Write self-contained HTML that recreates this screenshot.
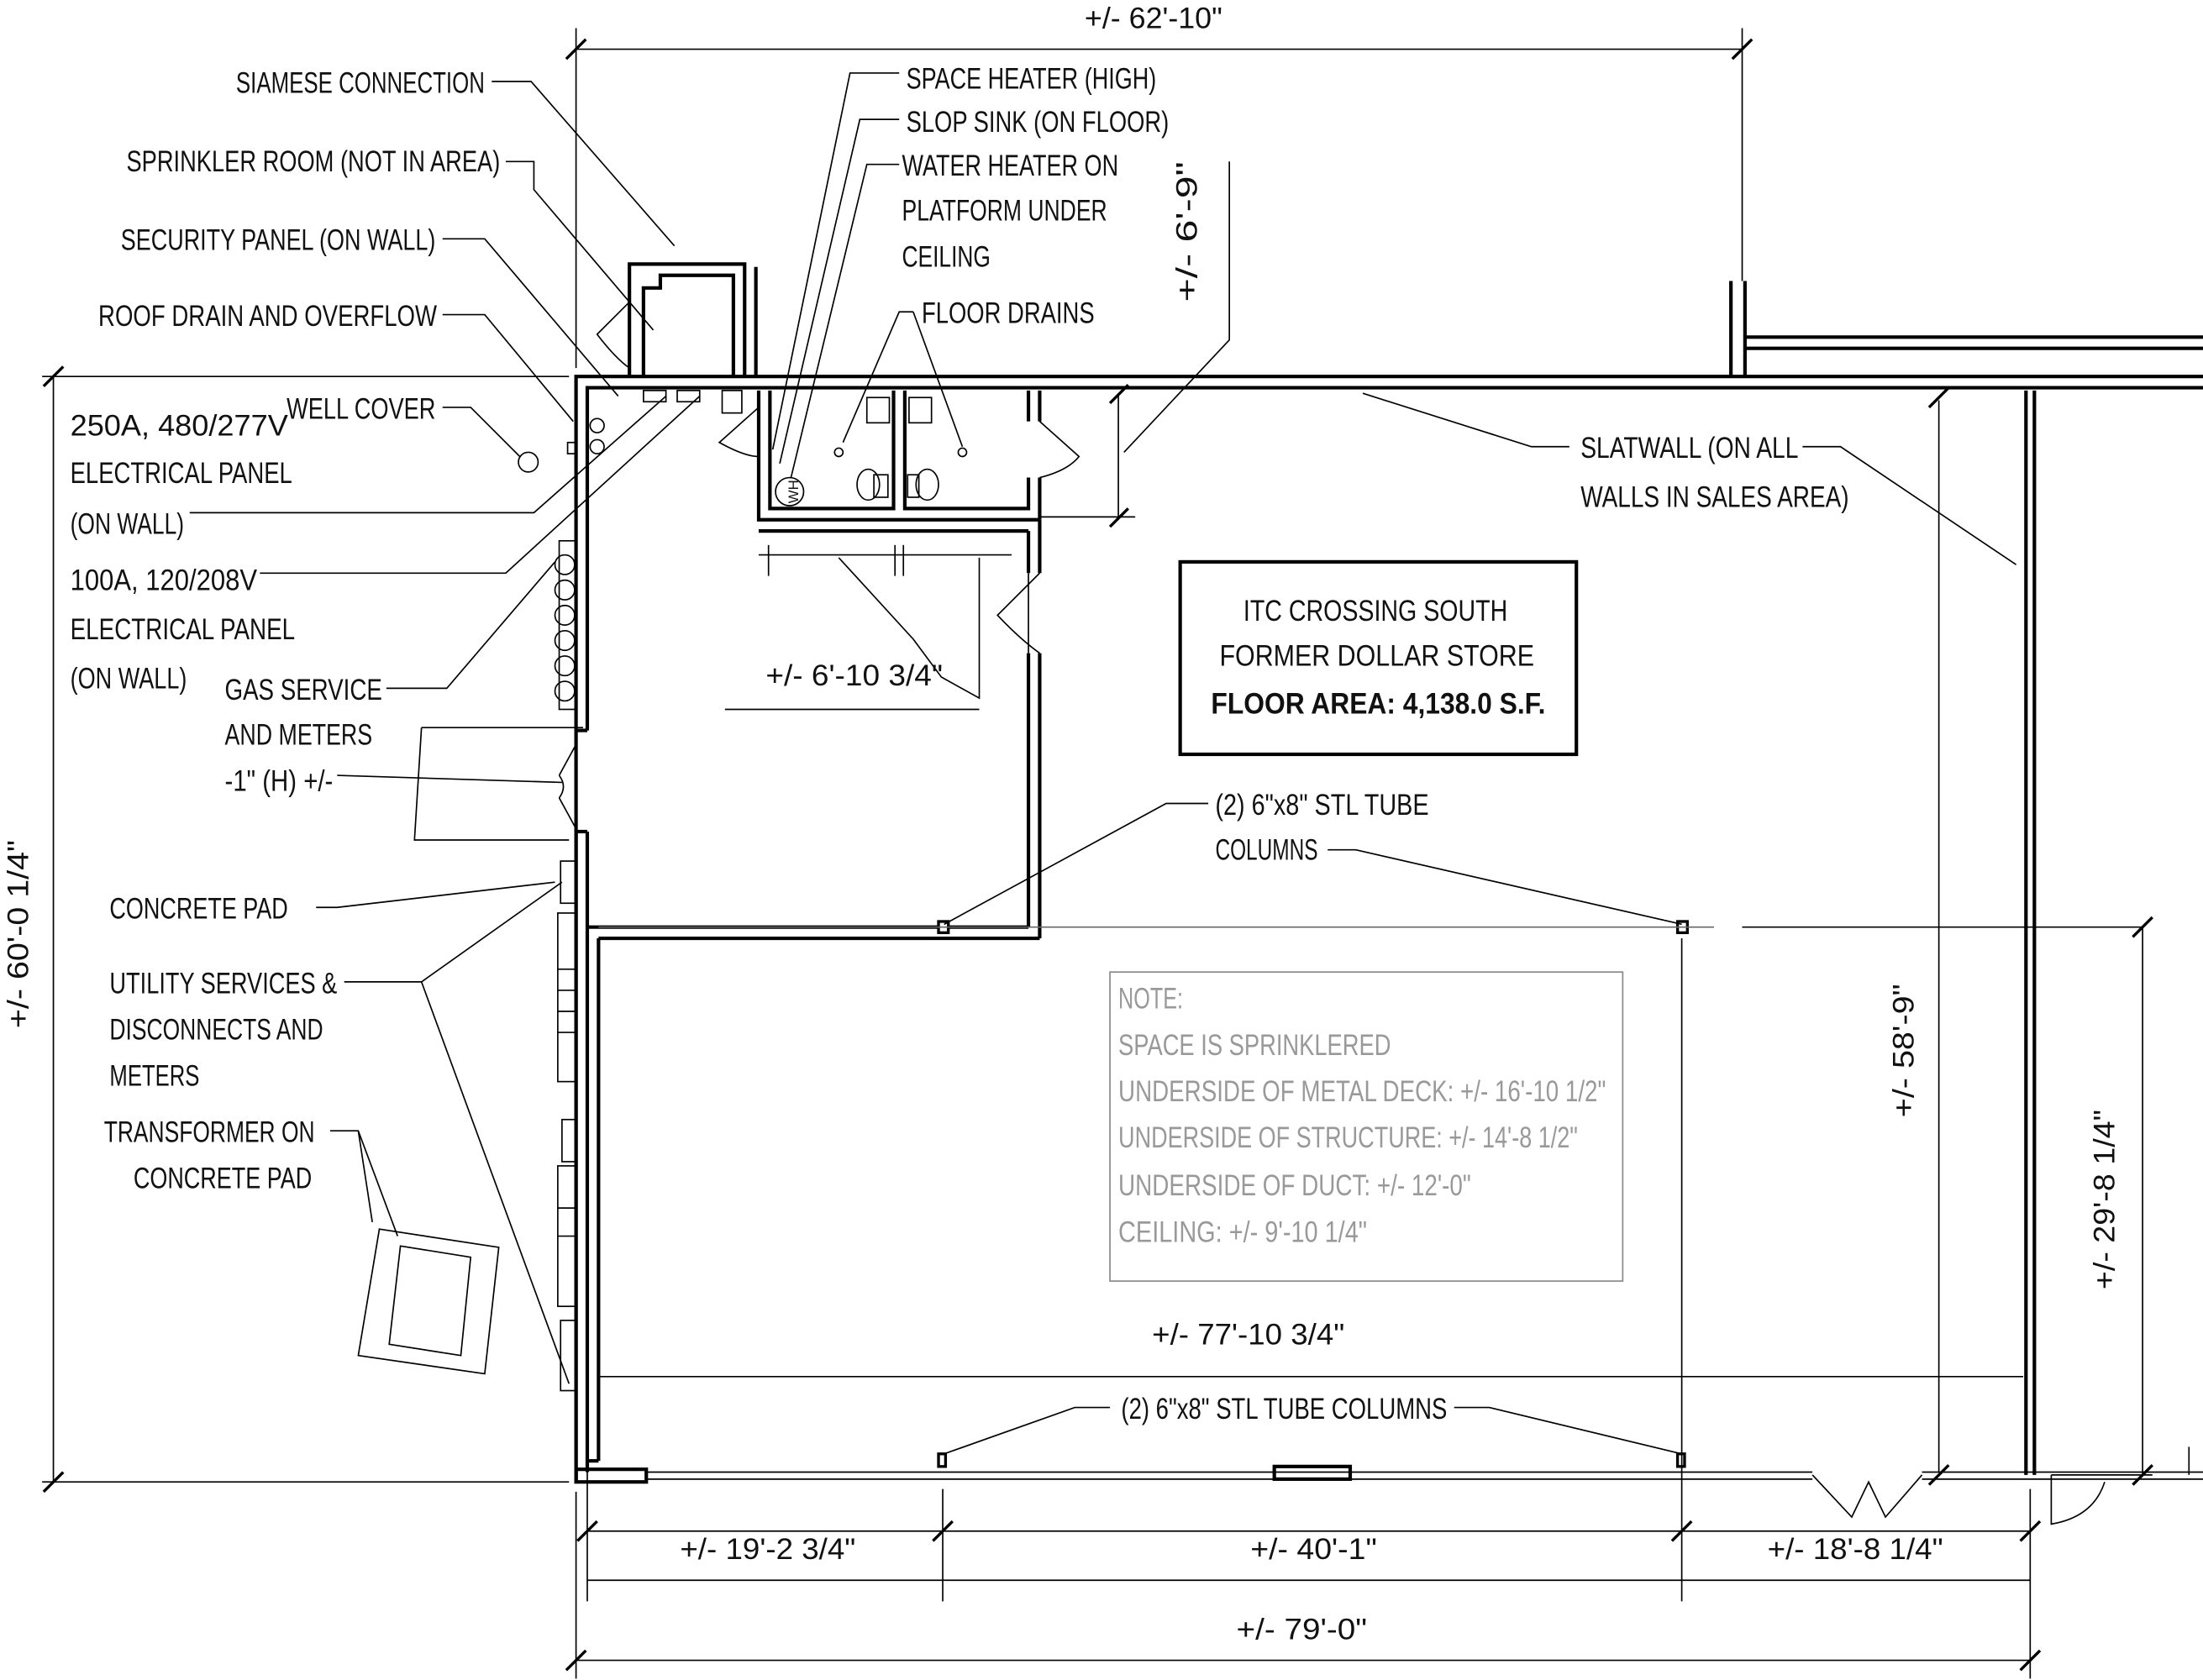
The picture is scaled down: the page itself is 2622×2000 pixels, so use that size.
<!DOCTYPE html>
<html><head><meta charset="utf-8"><style>
html,body{margin:0;padding:0;background:#fff}
svg{display:block}
text{font-family:"Liberation Sans Narrow","Liberation Sans",sans-serif;font-size:21px;fill:#111}
.g{fill:#999}
</style></head><body>
<svg width="2622" height="2000" viewBox="0 0 1568 1196" preserveAspectRatio="none" xmlns="http://www.w3.org/2000/svg">
<g stroke="#000" fill="none" stroke-width="1">
<line x1="410" y1="35" x2="1240" y2="35"/>
<line x1="410" y1="20" x2="410" y2="262"/>
<line x1="1240" y1="20" x2="1240" y2="200"/>
<line x1="403" y1="42" x2="417" y2="28" stroke-width="2"/>
<line x1="1233" y1="42" x2="1247" y2="28" stroke-width="2"/>
<line x1="38" y1="268" x2="38" y2="1055"/>
<line x1="30" y1="268" x2="405" y2="268"/>
<line x1="30" y1="1055" x2="405" y2="1055"/>
<line x1="31" y1="275" x2="45" y2="261" stroke-width="2"/>
<line x1="31" y1="1062" x2="45" y2="1048" stroke-width="2"/>
<g stroke-width="2.5">
<polyline points="410,1055 410,268 1568,268"/>
<polyline points="418,520 418,276 1568,276"/>
<line x1="418" y1="592" x2="418" y2="1048"/>
<line x1="410" y1="592" x2="410" y2="1055"/>
<line x1="410" y1="520" x2="418" y2="520"/>
<line x1="410" y1="592" x2="418" y2="592"/>
<rect x="410" y="1046" width="50" height="9"/>
<rect x="907" y="1044" width="54" height="9"/>
<line x1="1442" y1="278" x2="1442" y2="1050"/>
<line x1="1448" y1="278" x2="1448" y2="1050"/>
<line x1="1242" y1="248" x2="1568" y2="248"/>
<line x1="1242" y1="240" x2="1568" y2="240"/>
<line x1="1232" y1="200" x2="1232" y2="268"/>
<line x1="1242" y1="200" x2="1242" y2="268"/>
<polyline points="448,268 448,188 530,188 530,268"/>
<polyline points="458,268 458,205 470,205 470,196 522,196 522,268"/>
<polyline points="538,268 538,190"/>
<polyline points="540,278 540,370 740,370"/>
<polyline points="548,278 548,362 636,362 636,278"/>
<polyline points="644,278 644,362 732,362 732,340"/>
<line x1="732" y1="300" x2="732" y2="278"/>
<line x1="740" y1="300" x2="740" y2="278"/>
<line x1="740" y1="340" x2="740" y2="370"/>
<line x1="540" y1="378" x2="732" y2="378"/>
<line x1="732" y1="378" x2="732" y2="408"/>
<line x1="740" y1="370" x2="740" y2="408"/>
<line x1="732" y1="465" x2="732" y2="660"/>
<line x1="740" y1="465" x2="740" y2="668"/>
<line x1="418" y1="660" x2="732" y2="660"/>
<line x1="426" y1="668" x2="740" y2="668"/>
<line x1="426" y1="668" x2="426" y2="1040"/>
<line x1="418" y1="1040" x2="426" y2="1040"/>
</g>
<path d="M410 530 L398 552 M410 590 L398 568 M398 552 Q404 560 398 568"/>
<path d="M740 300 L768 325 Q760 335 740 340"/>
<path d="M740 408 L710 438 Q726 455 740 465"/>
<path d="M732 408 L732 465"/>
<path d="M448 215 L425 238 Q438 255 448 262"/>
<path d="M540 290 L512 315 Q530 325 540 325"/>
<path d="M1290 1050 L1318 1080 L1330 1055 L1342 1080 L1368 1050"/>
<path d="M1460 1050 L1460 1085 Q1490 1080 1498 1055"/>
<line x1="460" y1="1048" x2="1290" y2="1048"/>
<line x1="460" y1="1053" x2="1290" y2="1053"/>
<line x1="1368" y1="1048" x2="1568" y2="1048"/>
<line x1="1368" y1="1053" x2="1568" y2="1053"/>
<line x1="1380" y1="285" x2="1380" y2="1048"/>
<line x1="1558" y1="1030" x2="1558" y2="1050"/>
<g fill="#fff" stroke-width="2">
<rect x="668" y="656" width="7" height="8"/><rect x="1194" y="656" width="7" height="8"/>
<rect x="668" y="1035" width="5" height="9"/><rect x="1194" y="1035" width="5" height="9"/>
</g>
<line x1="426" y1="660" x2="1220" y2="660" stroke="#666"/>
<line x1="1240" y1="660" x2="1525" y2="660"/>
<circle cx="562" cy="350" r="10"/>
<ellipse cx="618" cy="345" rx="8" ry="11"/><rect x="622" y="338" width="10" height="16"/>
<ellipse cx="660" cy="345" rx="8" ry="11"/><rect x="646" y="338" width="8" height="16"/>
<rect x="617" y="283" width="16" height="18"/><rect x="647" y="283" width="16" height="18"/>
<circle cx="597" cy="322" r="3"/><circle cx="685" cy="322" r="3"/>
<g>
<circle cx="402" cy="402" r="7"/><circle cx="402" cy="420" r="7"/><circle cx="402" cy="438" r="7"/><circle cx="402" cy="456" r="7"/><circle cx="402" cy="474" r="7"/><circle cx="402" cy="492" r="7"/>
<rect x="398" y="385" width="12" height="120"/>
<rect x="399" y="613" width="11" height="30"/>
<rect x="397" y="650" width="13" height="120"/>
<line x1="397" y1="690" x2="410" y2="690"/><line x1="397" y1="705" x2="410" y2="705"/><line x1="397" y1="720" x2="410" y2="720"/><line x1="397" y1="735" x2="410" y2="735"/>
<rect x="400" y="797" width="10" height="30"/>
<rect x="397" y="830" width="13" height="100"/>
<line x1="397" y1="860" x2="410" y2="860"/><line x1="397" y1="880" x2="410" y2="880"/>
<rect x="399" y="940" width="11" height="50"/>
<circle cx="376" cy="329" r="7"/>
<circle cx="425" cy="303" r="5"/><circle cx="425" cy="318" r="5"/><rect x="404" y="315" width="6" height="8"/>
<rect x="458" y="278" width="16" height="8"/><rect x="482" y="278" width="16" height="8"/><rect x="514" y="278" width="14" height="16"/>
</g>
<polygon points="270,875 355,888 345,978 255,965"/>
<polygon points="285,887 335,895 328,965 277,957"/>
<rect x="840" y="400" width="282" height="137" stroke-width="2.5"/>
<rect x="790" y="692" width="365" height="220" stroke="#888"/>
<line x1="540" y1="395" x2="720" y2="395"/>
<line x1="547" y1="388" x2="547" y2="410"/><line x1="637" y1="388" x2="637" y2="410"/><line x1="643" y1="388" x2="643" y2="410"/>
<polyline points="597,397 650,455 670,482 697,497 697,397"/>
<line x1="516" y1="505" x2="697" y2="505"/>
<line x1="796" y1="280" x2="796" y2="370"/>
<line x1="740" y1="368" x2="808" y2="368"/>
<line x1="790" y1="287" x2="803" y2="274" stroke-width="2"/>
<line x1="790" y1="375" x2="803" y2="362" stroke-width="2"/>
<polyline points="800,322 875,242 875,115"/>
<line x1="418" y1="1090" x2="1445" y2="1090"/>
<line x1="418" y1="1125" x2="1445" y2="1125"/>
<line x1="410" y1="1182" x2="1445" y2="1182"/>
<line x1="410" y1="1062" x2="410" y2="1195"/>
<line x1="418" y1="980" x2="418" y2="1140"/>
<line x1="671" y1="1060" x2="671" y2="1140"/>
<line x1="1197" y1="668" x2="1197" y2="1140"/>
<line x1="1445" y1="1060" x2="1445" y2="1195"/>
<line x1="426" y1="980" x2="1440" y2="980"/>
<g stroke-width="2">
<line x1="411" y1="1097" x2="425" y2="1083"/><line x1="664" y1="1097" x2="678" y2="1083"/><line x1="1190" y1="1097" x2="1204" y2="1083"/><line x1="1438" y1="1097" x2="1452" y2="1083"/>
<line x1="403" y1="1189" x2="417" y2="1175"/><line x1="1438" y1="1189" x2="1452" y2="1175"/>
<line x1="1518" y1="667" x2="1532" y2="653"/><line x1="1518" y1="1057" x2="1532" y2="1043"/>
<line x1="1373" y1="290" x2="1387" y2="276"/><line x1="1373" y1="1057" x2="1387" y2="1043"/>
</g>
<line x1="1525" y1="660" x2="1525" y2="1050"/>
<line x1="1460" y1="1050" x2="1532" y2="1050"/>
<polyline points="350,58 378,58 480,175"/>
<polyline points="360,115 380,115 380,135 465,235"/>
<polyline points="315,170 345,170 440,282"/>
<polyline points="315,224 345,224 408,300"/>
<polyline points="315,290 335,290 370,325"/>
<polyline points="135,365 380,365 474,282"/>
<polyline points="185,408 360,408 498,282"/>
<polyline points="275,490 318,490 395,400"/>
<polyline points="240,552 400,557"/>
<polyline points="225,646 240,646 395,628"/>
<polyline points="245,699 300,699 405,985"/>
<line x1="300" y1="699" x2="400" y2="628"/>
<polyline points="235,805 255,805 283,880"/>
<line x1="255" y1="805" x2="265" y2="870"/>
<polyline points="640,52 605,52 550,320"/>
<polyline points="640,85 612,85 555,330"/>
<polyline points="640,117 617,117 563,340"/>
<polyline points="650,222 640,222 600,315"/>
<line x1="650" y1="222" x2="685" y2="318"/>
<polyline points="1117,318 1090,318 970,280"/>
<polyline points="1283,318 1310,318 1435,402"/>
<polyline points="860,572 830,572 672,658"/>
<polyline points="945,605 965,605 1197,658"/>
<polyline points="790,1002 765,1002 672,1035"/>
<polyline points="1035,1002 1060,1002 1197,1035"/>
<polyline points="300,518 415,518"/>
<polyline points="300,518 295,598 405,598"/>
</g>
<g lengthAdjust="spacingAndGlyphs">
<text x="772" y="20" textLength="98" lengthAdjust="spacingAndGlyphs">+/- 62'-10"</text>
<text x="168" y="66" textLength="177" lengthAdjust="spacingAndGlyphs">SIAMESE CONNECTION</text>
<text x="90" y="122" textLength="266" lengthAdjust="spacingAndGlyphs">SPRINKLER ROOM (NOT IN AREA)</text>
<text x="86" y="178" textLength="224" lengthAdjust="spacingAndGlyphs">SECURITY PANEL (ON WALL)</text>
<text x="70" y="232" textLength="241" lengthAdjust="spacingAndGlyphs">ROOF DRAIN AND OVERFLOW</text>
<text x="204" y="298" textLength="106" lengthAdjust="spacingAndGlyphs">WELL COVER</text>
<text x="50" y="310" textLength="155" lengthAdjust="spacingAndGlyphs">250A, 480/277V</text>
<text x="50" y="344" textLength="158" lengthAdjust="spacingAndGlyphs">ELECTRICAL PANEL</text>
<text x="50" y="380" textLength="81" lengthAdjust="spacingAndGlyphs">(ON WALL)</text>
<text x="50" y="420" textLength="133" lengthAdjust="spacingAndGlyphs">100A, 120/208V</text>
<text x="50" y="455" textLength="160" lengthAdjust="spacingAndGlyphs">ELECTRICAL PANEL</text>
<text x="50" y="490" textLength="83" lengthAdjust="spacingAndGlyphs">(ON WALL)</text>
<text x="160" y="498" textLength="112" lengthAdjust="spacingAndGlyphs">GAS SERVICE</text>
<text x="160" y="530" textLength="105" lengthAdjust="spacingAndGlyphs">AND METERS</text>
<text x="160" y="563" textLength="77" lengthAdjust="spacingAndGlyphs">-1" (H) +/-</text>
<text x="78" y="654" textLength="127" lengthAdjust="spacingAndGlyphs">CONCRETE PAD</text>
<text x="78" y="707" textLength="162" lengthAdjust="spacingAndGlyphs">UTILITY SERVICES &amp;</text>
<text x="78" y="740" textLength="152" lengthAdjust="spacingAndGlyphs">DISCONNECTS AND</text>
<text x="78" y="773" textLength="64" lengthAdjust="spacingAndGlyphs">METERS</text>
<text x="74" y="813" textLength="150" lengthAdjust="spacingAndGlyphs">TRANSFORMER ON</text>
<text x="95" y="846" textLength="127" lengthAdjust="spacingAndGlyphs">CONCRETE PAD</text>
<text x="645" y="63" textLength="178" lengthAdjust="spacingAndGlyphs">SPACE HEATER (HIGH)</text>
<text x="645" y="94" textLength="187" lengthAdjust="spacingAndGlyphs">SLOP SINK (ON FLOOR)</text>
<text x="642" y="125" textLength="154" lengthAdjust="spacingAndGlyphs">WATER HEATER ON</text>
<text x="642" y="157" textLength="146" lengthAdjust="spacingAndGlyphs">PLATFORM UNDER</text>
<text x="642" y="190" textLength="63" lengthAdjust="spacingAndGlyphs">CEILING</text>
<text x="656" y="230" textLength="123" lengthAdjust="spacingAndGlyphs">FLOOR DRAINS</text>
<text x="1125" y="326" textLength="155" lengthAdjust="spacingAndGlyphs">SLATWALL (ON ALL</text>
<text x="1125" y="361" textLength="191" lengthAdjust="spacingAndGlyphs">WALLS IN SALES AREA)</text>
<text x="545" y="488" textLength="126" lengthAdjust="spacingAndGlyphs">+/- 6'-10 3/4"</text>
<text x="885" y="442" textLength="188" lengthAdjust="spacingAndGlyphs">ITC CROSSING SOUTH</text>
<text x="868" y="474" textLength="224" lengthAdjust="spacingAndGlyphs">FORMER DOLLAR STORE</text>
<text x="862" y="508" textLength="238" lengthAdjust="spacingAndGlyphs" style="font-weight:bold">FLOOR AREA: 4,138.0 S.F.</text>
<text x="865" y="580" textLength="152" lengthAdjust="spacingAndGlyphs">(2) 6"x8" STL TUBE</text>
<text x="865" y="612" textLength="73" lengthAdjust="spacingAndGlyphs">COLUMNS</text>
<text class="g" x="796" y="718" textLength="46" lengthAdjust="spacingAndGlyphs">NOTE:</text>
<text class="g" x="796" y="751" textLength="194" lengthAdjust="spacingAndGlyphs">SPACE IS SPRINKLERED</text>
<text class="g" x="796" y="784" textLength="347" lengthAdjust="spacingAndGlyphs">UNDERSIDE OF METAL DECK: +/- 16'-10 1/2"</text>
<text class="g" x="796" y="817" textLength="327" lengthAdjust="spacingAndGlyphs">UNDERSIDE OF STRUCTURE: +/- 14'-8 1/2"</text>
<text class="g" x="796" y="851" textLength="251" lengthAdjust="spacingAndGlyphs">UNDERSIDE OF DUCT: +/- 12'-0"</text>
<text class="g" x="796" y="884" textLength="177" lengthAdjust="spacingAndGlyphs">CEILING: +/- 9'-10 1/4"</text>
<text x="820" y="957" textLength="137" lengthAdjust="spacingAndGlyphs">+/- 77'-10 3/4"</text>
<text x="798" y="1010" textLength="232" lengthAdjust="spacingAndGlyphs">(2) 6"x8" STL TUBE COLUMNS</text>
<text x="484" y="1110" textLength="125" lengthAdjust="spacingAndGlyphs">+/- 19'-2 3/4"</text>
<text x="890" y="1110" textLength="90" lengthAdjust="spacingAndGlyphs">+/- 40'-1"</text>
<text x="1258" y="1110" textLength="125" lengthAdjust="spacingAndGlyphs">+/- 18'-8 1/4"</text>
<text x="880" y="1167" textLength="93" lengthAdjust="spacingAndGlyphs">+/- 79'-0"</text>
<text transform="translate(20,665) rotate(-90)" text-anchor="middle" textLength="134" lengthAdjust="spacingAndGlyphs">+/- 60'-0 1/4"</text>
<text transform="translate(1362,748) rotate(-90)" text-anchor="middle" textLength="95" lengthAdjust="spacingAndGlyphs">+/- 58'-9"</text>
<text transform="translate(1505,854) rotate(-90)" text-anchor="middle" textLength="128" lengthAdjust="spacingAndGlyphs">+/- 29'-8 1/4"</text>
<text transform="translate(852,165) rotate(-90)" text-anchor="middle" textLength="100" lengthAdjust="spacingAndGlyphs">+/- 6'-9"</text>
<text transform="translate(568,350) rotate(-90)" text-anchor="middle" style="font-size:10px">WH</text>
</g>
</svg>
</body></html>
